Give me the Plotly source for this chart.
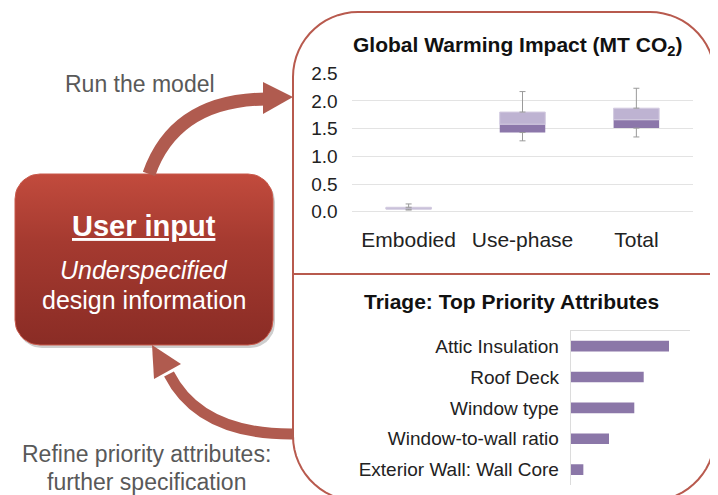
import numpy as np
import plotly.graph_objects as go

W, H = 718, 495
OFF = 8  # page body margin offset of the rendered figure

# ---- data ----
gwi_categories = ["Embodied", "Use-phase", "Total"]
gwi_min = [0.03, 1.28, 1.35]
gwi_q1 = [0.045, 1.43, 1.51]
gwi_median = [0.05, 1.58, 1.66]
gwi_q3 = [0.08, 1.80, 1.87]
gwi_max = [0.14, 2.17, 2.23]
gwi_ticks = [0.0, 0.5, 1.0, 1.5, 2.0, 2.5]

attr_names = ["Attic Insulation", "Roof Deck", "Window type",
              "Window-to-wall ratio", "Exterior Wall: Wall Core"]
attr_scores = [0.824, 0.612, 0.533, 0.321, 0.106]

FONT = "Liberation Sans, Arial, sans-serif"
RED = "#B05B4F"
FRAME = "#B85A4E"
GRAY_TXT = "#595959"
DARK_P = "#8C77AA"
LIGHT_P = "#BEB3D2"


def px(x):
    return (x - OFF) / W


def py(y):
    return 1 - (y - OFF) / H


def rounded_rect(x0, y0, x1, y1, r, n=12):
    xs, ys = [], []
    corners = [(x1 - r, y0 + r, -90, 0), (x1 - r, y1 - r, 0, 90),
               (x0 + r, y1 - r, 90, 180), (x0 + r, y0 + r, 180, 270)]
    for cx, cy, a0, a1 in corners:
        for a in np.linspace(np.radians(a0), np.radians(a1), n):
            xs.append(cx + r * np.cos(a))
            ys.append(cy + r * np.sin(a))
    xs.append(xs[0]); ys.append(ys[0])
    return xs, ys


def rr_path(x0, y0, x1, y1, r):
    xs, ys = rounded_rect(x0, y0, x1, y1, r, n=16)
    return "M " + " L ".join(f"{a:.2f},{b:.2f}" for a, b in zip(xs, ys)) + " Z"


fig = go.Figure()

# ---- box chart (bars as quartile boxes) ----
fig.add_trace(go.Bar(x=gwi_categories, y=[m - q for m, q in zip(gwi_median, gwi_q1)],
                     base=gwi_q1, width=0.4, marker=dict(color=DARK_P, line=dict(width=0)),
                     xaxis="x", yaxis="y", showlegend=False, hoverinfo="skip"))
fig.add_trace(go.Bar(x=gwi_categories, y=[q - m for q, m in zip(gwi_q3, gwi_median)],
                     base=gwi_median, width=0.4,
                     marker=dict(color=LIGHT_P, line=dict(width=1, color="#D3CBE0")),
                     xaxis="x", yaxis="y", showlegend=False, hoverinfo="skip"))
fig.add_trace(go.Scatter(x=gwi_categories, y=gwi_q3, mode="markers",
                         marker=dict(size=1, color="rgba(0,0,0,0)"),
                         error_y=dict(type="data", symmetric=False,
                                      array=[a - b for a, b in zip(gwi_max, gwi_q3)],
                                      arrayminus=[0, 0, 0], color="#9A9A9A",
                                      thickness=1, width=3),
                         xaxis="x", yaxis="y", showlegend=False, hoverinfo="skip"))
fig.add_trace(go.Scatter(x=gwi_categories, y=gwi_q1, mode="markers",
                         marker=dict(size=1, color="rgba(0,0,0,0)"),
                         error_y=dict(type="data", symmetric=False,
                                      array=[0, 0, 0],
                                      arrayminus=[a - b for a, b in zip(gwi_q1, gwi_min)],
                                      color="#9A9A9A", thickness=1, width=3),
                         xaxis="x", yaxis="y", showlegend=False, hoverinfo="skip"))

# ---- priority bar chart ----
fig.add_trace(go.Bar(y=attr_names, x=attr_scores, orientation="h", width=0.345,
                     marker=dict(color="#8B77A8", line=dict(width=0)),
                     xaxis="x2", yaxis="y2", showlegend=False, hoverinfo="skip"))

# ---- left gradient box (pixel canvas axes) ----
sx, sy = rounded_rect(17, 177, 275, 348, 25)
fig.add_trace(go.Scatter(x=sx, y=sy, fill="toself", mode="lines",
                         line=dict(width=0), fillcolor="rgba(60,60,60,0.25)",
                         xaxis="x3", yaxis="y3", showlegend=False, hoverinfo="skip"))
bx, by = rounded_rect(15, 174, 273, 345, 25)
fig.add_trace(go.Scatter(x=bx, y=by, fill="toself", mode="lines",
                         line=dict(width=1, color="#C8584A"),
                         fillgradient=dict(type="vertical",
                                           colorscale=[[0, "#8A2C25"], [0.6, "#A53A30"], [1, "#C24B3D"]],
                                           start=345, stop=174),
                         xaxis="x3", yaxis="y3", showlegend=False, hoverinfo="skip"))

axis_font = dict(family=FONT, size=19, color="#222222")

fig.update_layout(
    width=W, height=H,
    margin=dict(l=0, r=0, t=0, b=0, pad=0, autoexpand=False),
    paper_bgcolor="white", plot_bgcolor="rgba(0,0,0,0)",
    barmode="overlay",
    font=dict(family=FONT, color="#222222"),
    xaxis=dict(domain=[px(351.7), px(693.3)], anchor="y", type="category",
               showgrid=False, showline=False, zeroline=False, automargin=False,
               ticks="", ticklabelstandoff=13,
               tickfont=dict(family=FONT, size=21, color="#222222"), fixedrange=True),
    yaxis=dict(domain=[py(211.7), py(73.3)], anchor="x", range=[0, 2.5],
               tickvals=gwi_ticks, ticktext=[f"{v:.1f}" for v in gwi_ticks],
               showgrid=True, gridcolor="#E3E3E3", gridwidth=1, automargin=False,
               zeroline=True, zerolinecolor="#E3E3E3", zerolinewidth=1,
               showline=False, ticks="", ticklabelstandoff=13,
               tickfont=axis_font, fixedrange=True),
    xaxis2=dict(domain=[px(570.7), px(690)], anchor="y2", range=[0, 1], side="top",
                showgrid=False, zeroline=False, showline=True, linecolor="#DCDCDC",
                linewidth=1, showticklabels=False, ticks="", fixedrange=True,
                automargin=False),
    yaxis2=dict(domain=[py(485), py(330.7)], anchor="x2", type="category",
                autorange="reversed", showgrid=False, zeroline=False,
                showline=True, linecolor="#DCDCDC", linewidth=1, ticks="",
                ticklabelstandoff=7, automargin=False,
                tickfont=dict(family=FONT, size=19, color="#222222"), fixedrange=True),
    xaxis3=dict(domain=[0, 1], anchor="y3", range=[OFF, W + OFF], visible=False,
                fixedrange=True, automargin=False),
    yaxis3=dict(domain=[0, 1], anchor="x3", range=[H + OFF, OFF], visible=False,
                fixedrange=True, automargin=False),
)

shapes = []
# frame
shapes.append(dict(type="path", xref="x3", yref="y3", path=rr_path(293, 12, 715, 501, 65),
                   line=dict(color=FRAME, width=2), fillcolor="rgba(0,0,0,0)", layer="below"))
shapes.append(dict(type="line", xref="x3", yref="y3", x0=293, x1=715, y0=274, y1=274,
                   line=dict(color=FRAME, width=2)))
# top arrow
shapes.append(dict(type="path", xref="x3", yref="y3", path="M 149,174 Q 175,100 266,99",
                   line=dict(color=RED, width=13), fillcolor="rgba(0,0,0,0)"))
shapes.append(dict(type="path", xref="x3", yref="y3", path="M 263,82 L 293,97 L 263,114 Z",
                   line=dict(color=RED, width=0), fillcolor=RED))
# bottom arrow
shapes.append(dict(type="path", xref="x3", yref="y3", path="M 294,434 Q 200,435 169,374",
                   line=dict(color=RED, width=11), fillcolor="rgba(0,0,0,0)"))
shapes.append(dict(type="path", xref="x3", yref="y3", path="M 152,345 L 181,364 L 154,379 Z",
                   line=dict(color=RED, width=0), fillcolor=RED))
fig.update_layout(shapes=shapes)


def ann(text, x, y, size, color, **kw):
    fig.add_annotation(text=text, x=x, y=y, xref="x3", yref="y3", showarrow=False,
                       xanchor=kw.pop("xanchor", "center"), yanchor="middle",
                       font=dict(family=FONT, size=size, color=color), **kw)


ann("Run the model", 140, 84, 23, GRAY_TXT)
ann("Refine priority attributes:", 146, 454, 23, GRAY_TXT)
ann("further specification", 146, 482, 23, GRAY_TXT)
ann("<b><u>User input</u></b>", 144, 226, 29, "white")
ann("<i>Underspecified</i>", 144, 270, 25, "white")
ann("design information", 144, 300, 25, "white")
ann("<b>Global Warming Impact (MT CO<sub>2</sub>)</b>", 517, 46, 21, "#111111")
ann("<b>Triage: Top Priority Attributes</b>", 511, 301, 21, "#111111")

fig.write_html("out.html")
